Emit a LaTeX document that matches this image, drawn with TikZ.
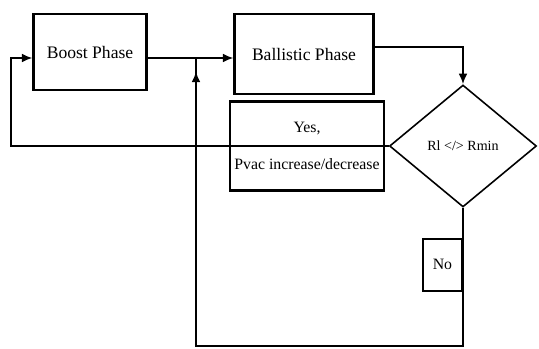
\documentclass[tikz,border=0pt]{standalone}
\usepackage{fontspec}
\setmainfont{Liberation Serif}
\usepackage{tikz}
\usetikzlibrary{arrows.meta}
\usetikzlibrary{shapes}
\usetikzlibrary{positioning}

\begin{document}
\begin{tikzpicture}[>={Latex[length=6pt,width=5pt]}, x=0.02cm, y=-0.02cm,
                    block/.style = {rectangle, draw, line width=1.2pt, inner sep=2pt},
                    decision/.style = {diamond, draw, line width=0.9pt, inner sep=0pt,
                                       minimum width=2.94cm, minimum height=2.44cm},
                    flow/.style = {line width=1pt}]
  \useasboundingbox (0,0) rectangle (539,349);
  \node [block, minimum width=2.26cm, minimum height=1.52cm] (boost) at (90,52) {Boost Phase};
  \node [block, minimum width=2.78cm, minimum height=1.6cm] (ballistic) at (304,54) {Ballistic Phase};
  \node [decision] (dec) at (463,146) {\footnotesize Rl </> Rmin};
  \node [block, minimum width=3.08cm, minimum height=1.78cm, align=center]
    (yes) at (307,146) {\small Yes,\\[9pt] \small Pvac increase/decrease};
  \node [block, minimum width=0.78cm, minimum height=1.04cm, inner sep=1pt,
         below left=0.6cm and 0cm of dec.south, anchor=north east] (no) {\small No};
  \coordinate (join) at (196,58);
  % forward path
  \draw [flow, ->] (boost.east |- join) -- (ballistic.west |- join);
  \draw [flow, ->] ([yshift=0.14cm]ballistic.east) -| (dec.north);
  % yes: back to boost
  \draw [flow, ->] (dec.west) -- ++(-378,0) |- (boost.west |- join);
  % no: back to ballistic
  \draw [flow] (dec.south) -- ++(0,138) -| (join);
  \draw [flow, ->] ([yshift=-0.46cm]join) -- ([yshift=-0.27cm]join);
\end{tikzpicture}
\end{document}
